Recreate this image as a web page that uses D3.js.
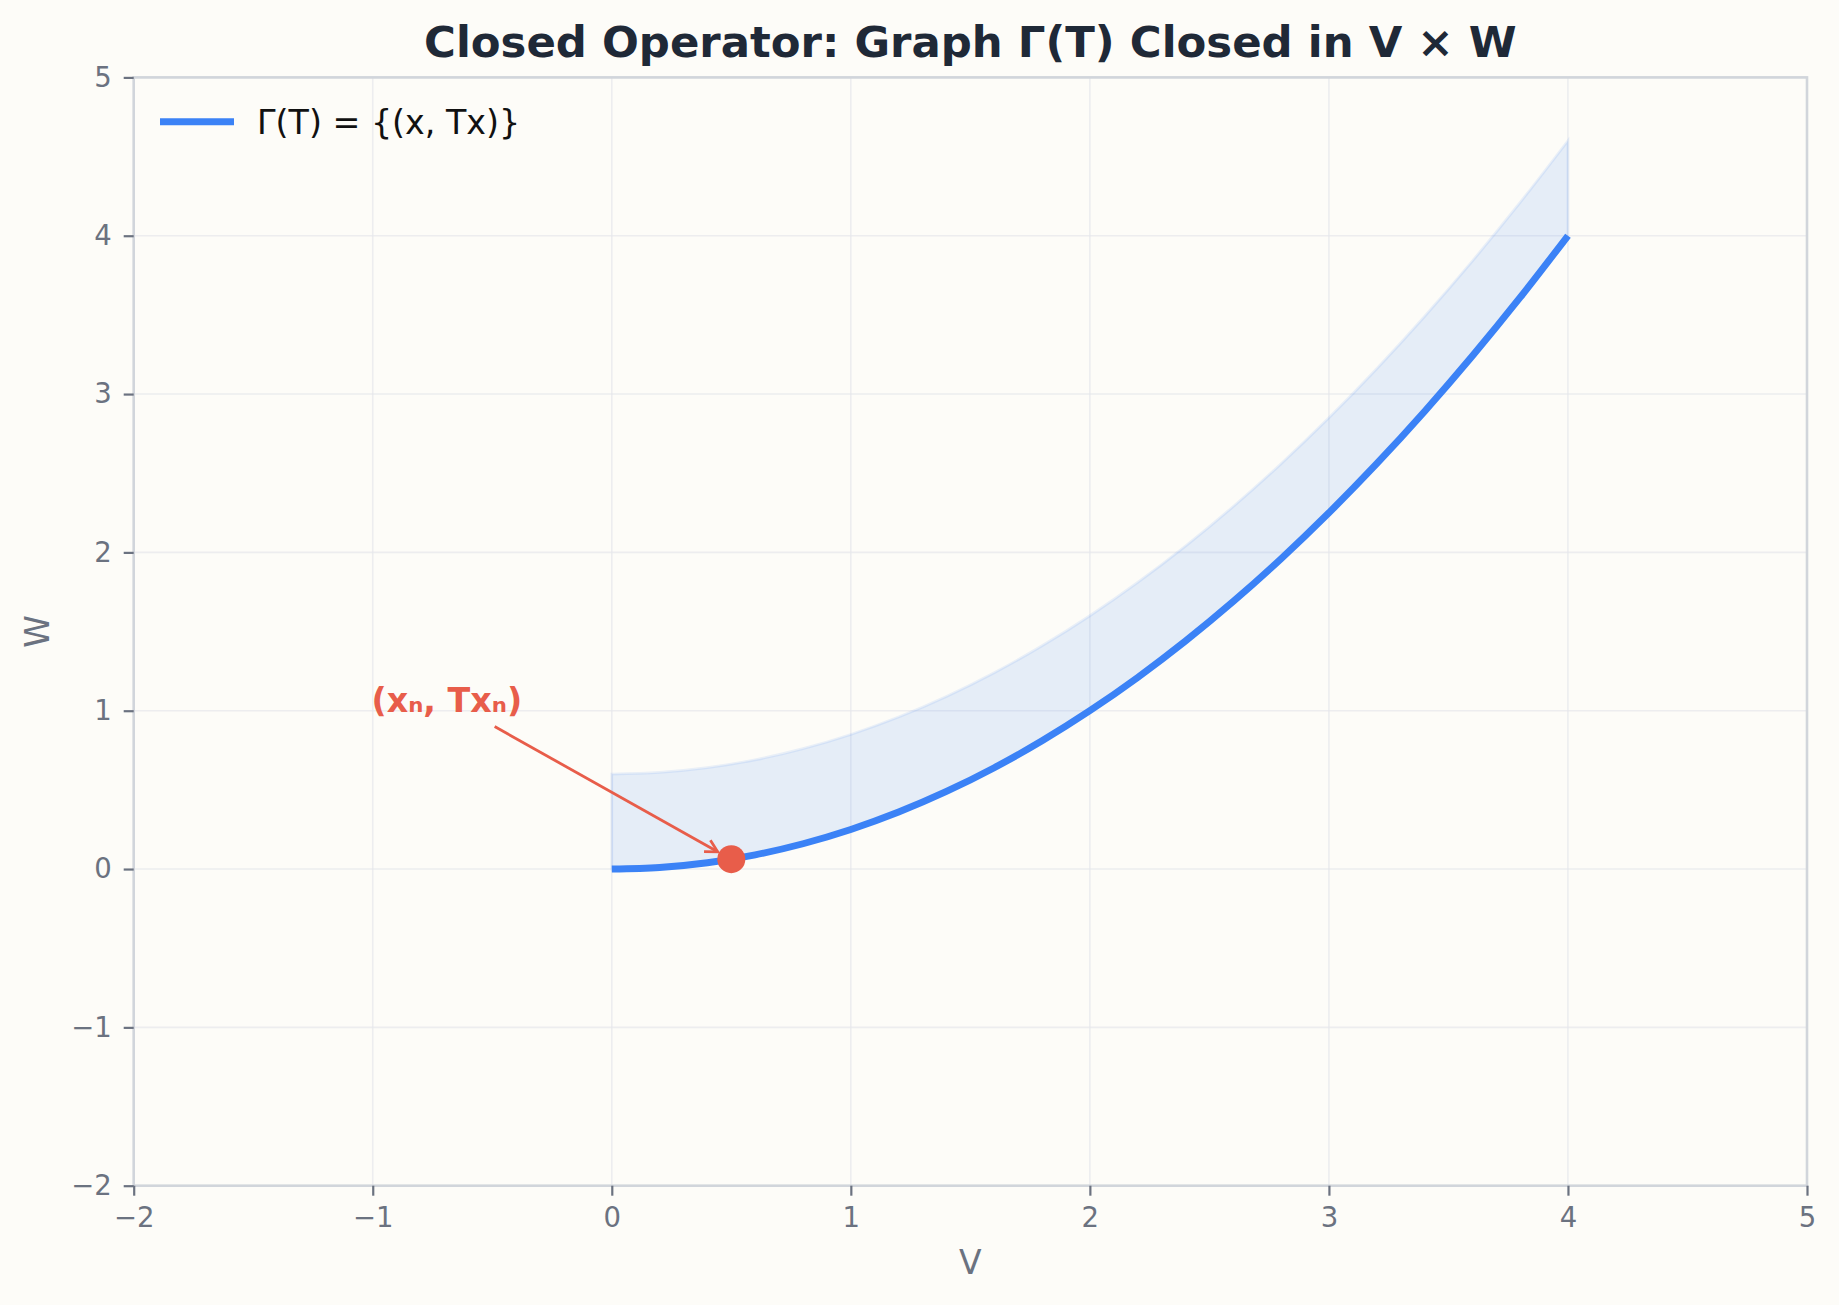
<!DOCTYPE html>
<html>
<head>
<meta charset="utf-8">
<script src="https://cdn.jsdelivr.net/npm/d3@7"></script>
<style>
  html, body { margin: 0; padding: 0; background: #fdfcf8; }
  svg { display: block; font-family: "DejaVu Sans", sans-serif; }
</style>
</head>
<body>
<svg id="chart" width="1839" height="1305"></svg>
<script>
// ---- data ----
const xVals = [0, 0.2, 0.4, 0.6, 0.8, 1.0, 1.2, 1.4, 1.6, 1.8, 2.0, 2.2, 2.4, 2.6, 2.8, 3.0, 3.2, 3.4, 3.6, 3.8, 4.0];
const graphY = [0, 0.01, 0.04, 0.09, 0.16, 0.25, 0.36, 0.49, 0.64, 0.81, 1.0, 1.21, 1.44, 1.69, 1.96, 2.25, 2.56, 2.89, 3.24, 3.61, 4.0];
const bandUpper = [0.6, 0.61, 0.64, 0.69, 0.76, 0.85, 0.96, 1.09, 1.24, 1.41, 1.6, 1.81, 2.04, 2.29, 2.56, 2.85, 3.16, 3.49, 3.84, 4.21, 4.6];
const pointXY = [0.5, 0.0625];
const labelXY = [-0.69, 1.05];
const arrowStart = [-0.49, 0.9];
const arrowEnd = [0.443, 0.109];
const xTicks = [-2, -1, 0, 1, 2, 3, 4, 5];
const yTicks = [-2, -1, 0, 1, 2, 3, 4, 5];
const xDomain = [-2, 5];
const yDomain = [-2, 5];
const titleText = "Closed Operator: Graph \u0393(T) Closed in V \u00d7 W";
const legendLabel = "\u0393(T) = {(x, Tx)}";
const pointLabel = "(x\u2099, Tx\u2099)";
const xLabel = "V";
const yLabel = "W";

// ---- layout ----
const W = 1839, H = 1305;
const m = { left: 133.7, right: W - 1807, top: 77.4, bottom: H - 1185.7 };
const pw = W - m.left - m.right, ph = H - m.top - m.bottom;
const svg = d3.select("#chart");
svg.append("rect").attr("width", W).attr("height", H).attr("fill", "#fdfcf8");

const x = d3.scaleLinear().domain(xDomain).range([0, pw]);
const y = d3.scaleLinear().domain(yDomain).range([ph, 0]);
const g = svg.append("g").attr("transform", `translate(${m.left},${m.top})`);

const tickCol = "#6b7280", spineCol = "#d1d5db", gridCol = "#e5e7eb";

// grid
g.append("g").selectAll("line.gx").data(xTicks).join("line")
  .attr("x1", d => x(d)).attr("x2", d => x(d)).attr("y1", 0).attr("y2", ph)
  .attr("stroke", gridCol).attr("stroke-width", 1.6).attr("stroke-opacity", 0.7);
g.append("g").selectAll("line.gy").data(yTicks).join("line")
  .attr("y1", d => y(d)).attr("y2", d => y(d)).attr("x1", 0).attr("x2", pw)
  .attr("stroke", gridCol).attr("stroke-width", 1.6).attr("stroke-opacity", 0.7);

// band fill
const pts = xVals.map((v, i) => ({ x: v, lo: graphY[i], hi: bandUpper[i] }));
const area = d3.area().x(d => x(d.x)).y0(d => y(d.lo)).y1(d => y(d.hi)).curve(d3.curveMonotoneX);
g.append("path").datum(pts).attr("d", area)
  .attr("fill", "#3b82f6").attr("fill-opacity", 0.12)
  .attr("stroke", "#3b82f6").attr("stroke-opacity", 0.1).attr("stroke-width", 2.8);

// graph line
const line = d3.line().x(d => x(d.x)).y(d => y(d.lo)).curve(d3.curveMonotoneX);
g.append("path").datum(pts).attr("d", line)
  .attr("fill", "none").attr("stroke", "#3b82f6").attr("stroke-width", 6.9);

// arrow
const red = "#e85d4a";
const defs = svg.append("defs");
defs.append("marker").attr("id", "arrowhead").attr("markerUnits", "userSpaceOnUse")
  .attr("viewBox", "-14 -8 16 16").attr("refX", 0).attr("refY", 0)
  .attr("markerWidth", 16).attr("markerHeight", 16).attr("orient", "auto")
  .append("path").attr("d", "M-12,-6.5 L0,0 L-12,6.5")
  .attr("fill", "none").attr("stroke", red).attr("stroke-width", 2.8);
g.append("line")
  .attr("x1", x(arrowStart[0])).attr("y1", y(arrowStart[1]))
  .attr("x2", x(arrowEnd[0])).attr("y2", y(arrowEnd[1]))
  .attr("stroke", red).attr("stroke-width", 2.8).attr("marker-end", "url(#arrowhead)");

// point
g.append("circle").attr("cx", x(pointXY[0])).attr("cy", y(pointXY[1])).attr("r", 14).attr("fill", red);

// point label
g.append("text").attr("x", x(labelXY[0])).attr("y", y(labelXY[1]))
  .attr("text-anchor", "middle").attr("dominant-baseline", "middle")
  .attr("font-size", 33.3).attr("font-weight", "bold").attr("fill", red).text(pointLabel);

// spines
g.append("rect").attr("x", 0).attr("y", 0).attr("width", pw).attr("height", ph)
  .attr("fill", "none").attr("stroke", spineCol).attr("stroke-width", 2.6);

// axes
const xAxis = d3.axisBottom(x).tickValues(xTicks).tickSize(10).tickPadding(12)
  .tickFormat(d => d < 0 ? "\u2212" + Math.abs(d) : d);
const yAxis = d3.axisLeft(y).tickValues(yTicks).tickSize(10).tickPadding(12)
  .tickFormat(d => d < 0 ? "\u2212" + Math.abs(d) : d);
const gx = g.append("g").attr("transform", `translate(0,${ph})`).call(xAxis);
const gy = g.append("g").call(yAxis);
[gx, gy].forEach(a => {
  a.select(".domain").remove();
  a.selectAll(".tick line").attr("stroke", tickCol).attr("stroke-width", 2.2);
  a.selectAll(".tick text").attr("fill", tickCol).attr("font-size", 27.5)
    .attr("font-family", "DejaVu Sans");
});

// axis labels
svg.append("text").attr("x", m.left + pw / 2).attr("y", 1274)
  .attr("text-anchor", "middle").attr("font-size", 33).attr("fill", tickCol).text(xLabel);
svg.append("text").attr("transform", `translate(${49},${m.top + ph / 2}) rotate(-90)`)
  .attr("text-anchor", "middle").attr("font-size", 33).attr("fill", tickCol).text(yLabel);

// title
svg.append("text").attr("x", m.left + pw / 2).attr("y", 57)
  .attr("text-anchor", "middle").attr("font-size", 43.4).attr("font-weight", "bold")
  .attr("fill", "#1f2937").text(titleText);

// legend
const lg = svg.append("g");
lg.append("line").attr("x1", 160).attr("x2", 234).attr("y1", 121.7).attr("y2", 121.7)
  .attr("stroke", "#3b82f6").attr("stroke-width", 6.9);
lg.append("text").attr("x", 257).attr("y", 133.5).attr("font-size", 33.3)
  .attr("fill", "#111111").text(legendLabel);
</script>
</body>
</html>
